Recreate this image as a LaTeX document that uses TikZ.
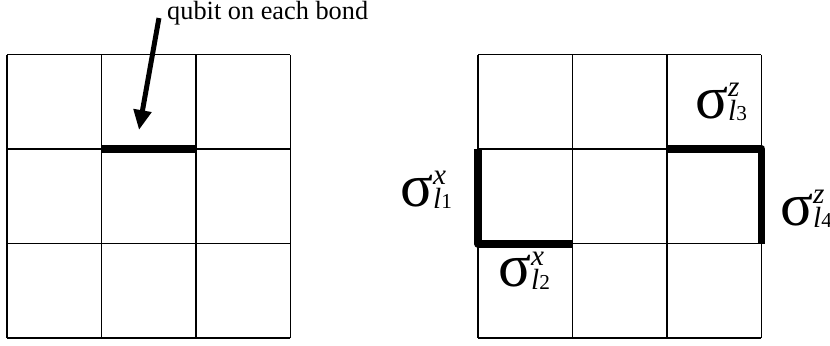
\documentclass[tikz,border=0pt]{standalone}
\usepackage{amsmath}
\usepackage{fontspec}
\setmainfont{Liberation Serif}
\usepackage{tikz}
\usetikzlibrary{arrows.meta, positioning}

% sigma with a superscript and an l_k subscript
\newcommand{\pauli}[2]{{\fontsize{46}{46}\selectfont σ}\rlap{\raisebox{16.5pt}{\fontsize{22}{22}\selectfont\itshape #1}}\raisebox{-2pt}{\fontsize{22}{22}\selectfont\itshape l\fontsize{16}{16}\selectfont\upshape #2}}

\begin{document}
\begin{tikzpicture}[x=2.5cm, y=2.5cm,
    lattice/.style={line width=1.1pt, step=2.5cm},
    bond/.style={line width=6pt, line join=round},
    op/.style={inner sep=0pt, anchor=base west},
    pointer/.style={line width=3.75pt, -{Triangle[length=15pt, width=13pt]}}]
\useasboundingbox (-0.074,-0.074) rectangle (8.709,3.577);

% Left lattice: one qubit per bond
\draw[lattice] (0,0) grid (3,3);
\draw[bond] (1,2) -- (2,2);
\node[op, font=\fontsize{19.8}{24}\selectfont] (caption) at (1.693,3.375) {qubit on each bond};
\coordinate (tail) at (1.608,3.386);
\coordinate (tip) at (1.397,2.201);
\draw[pointer] (tail) -- (tip);

% Right lattice: operators on the marked bonds
\begin{scope}[shift={(4.984,0)}]
\draw[lattice] (0,0) grid (3,3);
\draw[bond] (0,2) -- (0,1) -- (1,1);
\draw[bond] (2,2) -- (3,2) -- (3,1);
\node[op] (l1) at (-0.825,1.397) {\pauli{x}{1}};
\node[op] (l2) at (0.212,0.540) {\pauli{x}{2}};
\node[op] (l3) at (2.296,2.328) {\pauli{z}{3}};
\node[op] (l4) at (3.196,1.196) {\pauli{z}{4}};
\end{scope}
\end{tikzpicture}
\end{document}
